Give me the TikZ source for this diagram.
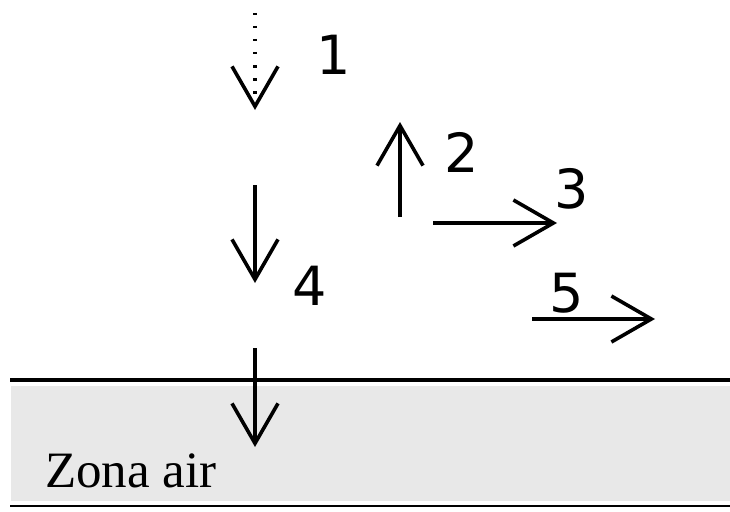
\documentclass[tikz,border=0pt]{standalone}
\usepackage{fontspec}
\setmainfont{Liberation Serif}
\newfontfamily\numfont{DejaVu Sans}
\usepackage{xcolor}
\usepackage{tikz}
\usetikzlibrary{arrows.meta}
\definecolor{zonegray}{HTML}{E8E8E8}

\begin{document}
\begin{tikzpicture}[x=1pt,y=-1pt,
  num/.style={font=\numfont\fontsize{54}{58}\selectfont,inner sep=0pt},
  flow/.style={line width=3.6pt,-{Straight Barb[length=40pt,width=46pt]}},
  drift/.style={flow,dash pattern=on 2.5pt off 10.5pt}]
\useasboundingbox (0,0) rectangle (730,511);
\fill[zonegray] (11,386) rectangle (730,501);
\draw[line width=3.4pt] (10,380) -- (730,380);
\draw[line width=2.4pt] (10,506) -- (730,506);
\coordinate (p1) at (255,13);  \coordinate (q1) at (255,110);
\coordinate (p2) at (400,217); \coordinate (q2) at (400,122);
\coordinate (p3) at (433,223); \coordinate (q3) at (557,223);
\coordinate (p4) at (255,185); \coordinate (q4) at (255,283);
\coordinate (p5) at (532,319); \coordinate (q5) at (655,319);
\coordinate (pz) at (255,348); \coordinate (qz) at (255,447);
\draw[drift] (p1) -- (q1);
\draw[flow] (p2) -- (q2);
\draw[flow] (p3) -- (q3);
\draw[flow] (p4) -- (q4);
\draw[flow] (p5) -- (q5);
\draw[flow] (pz) -- (qz);
\node[num] (n1) at (334,55) {1};
\node[num] (n2) at (462,152) {2};
\node[num] (n3) at (572,189) {3};
\node[num] (n4) at (310,286) {4};
\node[num] (n5) at (567,293) {5};
\node[anchor=base west,inner sep=0pt,font=\fontsize{51}{54}\selectfont] (zone) at (45,487) {Zona air};
\end{tikzpicture}
\end{document}
